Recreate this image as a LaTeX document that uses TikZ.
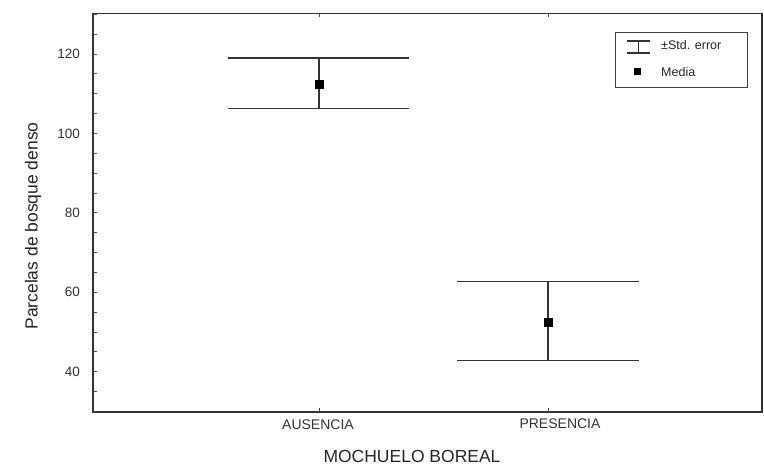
\documentclass[tikz,border=0pt]{standalone}
\usepackage{fontspec}
\setmainfont{Liberation Sans}
\usetikzlibrary{positioning,calc}

\begin{document}
\begin{tikzpicture}[x=1pt,y=1pt,
    axis/.style={line width=1.2pt, black!80},
    tickmark/.style={line width=0.7pt, black!70},
    bar/.style={line width=1.1pt, black!80},
    mean/.style={rectangle, fill=black, minimum size=9pt, inner sep=0pt},
    num/.style={font=\fontsize{13.5}{13.5}\selectfont, text=black!80, inner sep=0pt},
    cat/.style={font=\fontsize{14}{14}\selectfont, text=black!80, inner sep=0pt},
    ttl/.style={font=\fontsize{17.5}{17.5}\selectfont, text=black!85, inner sep=0pt},
    leg/.style={font=\fontsize{12.5}{12.5}\selectfont, text=black!85, inner sep=0pt, anchor=west}]
  \useasboundingbox (0,0) rectangle (764,467);

  % plot area: a value v sits at 3.97v - 63.4
  \begin{scope}[y=3.97pt, yshift=-63.4pt]
    \draw[axis] (93,29.8) rectangle (762,130.3);
    \foreach \v in {30,35,...,130}
      \draw[tickmark] (93,\v) -- ++(4,0);
    \foreach \v in {40,60,...,120}
      \node[num, anchor=east] (y\v) at (80,\v) {\v};
    % category ticks, bottom and top
    \foreach \x in {319,548} {
      \draw[tickmark] (\x,29.8) -- ++(0,1.1);
      \draw[tickmark] (\x,130.3) -- ++(0,-1.1);
    }

    % AUSENCIA
    \coordinate (ausHiL) at (228,119.0);
    \coordinate (ausHiR) at (409,119.0);
    \coordinate (ausLoL) at (228,106.2);
    \coordinate (ausLoR) at (409,106.2);
    \coordinate (ausHi) at (319,119.0);
    \coordinate (ausLo) at (319,106.2);
    \draw[bar] (ausHiL) -- (ausHiR);
    \draw[bar] (ausLoL) -- (ausLoR);
    \draw[bar] (ausHi) -- (ausLo);
    \node[mean] (ausM) at (319,112.4) {};

    % PRESENCIA
    \coordinate (preHiL) at (457,62.6);
    \coordinate (preHiR) at (639,62.6);
    \coordinate (preLoL) at (457,42.8);
    \coordinate (preLoR) at (639,42.8);
    \coordinate (preHi) at (548,62.6);
    \coordinate (preLo) at (548,42.8);
    \draw[bar] (preHiL) -- (preHiR);
    \draw[bar] (preLoL) -- (preLoR);
    \draw[bar] (preHi) -- (preLo);
    \node[mean] (preM) at (548,52.4) {};
  \end{scope}

  % axis texts
  \node[cat] (aus) at (318,42) {AUSENCIA};
  \node[cat] (pre) at (560,43) {PRESENCIA};
  \node[ttl] (xlab) at (412,10.5) {MOCHUELO BOREAL};
  \node[ttl, rotate=90] (ylab) at (33,241) {Parcelas de bosque denso};

  % legend
  \draw[line width=1pt, black!75] (615,379) rectangle (747,434);
  \coordinate (legHiL) at (627,426);
  \coordinate (legHiR) at (650,426);
  \coordinate (legLoL) at (627,414);
  \coordinate (legLoR) at (650,414);
  \draw[bar] (legHiL) -- (legHiR);
  \draw[bar] (legLoL) -- (legLoR);
  \draw[bar] ($(legHiL)!0.5!(legHiR)$) -- ($(legLoL)!0.5!(legLoR)$);
  \node[mean, minimum size=7pt] (legM) at (637,395) {};
  \node[leg] (legE) at (661,422) {±Std. error};
  \node[leg] (legT) at (661,395) {Media};
\end{tikzpicture}
\end{document}
